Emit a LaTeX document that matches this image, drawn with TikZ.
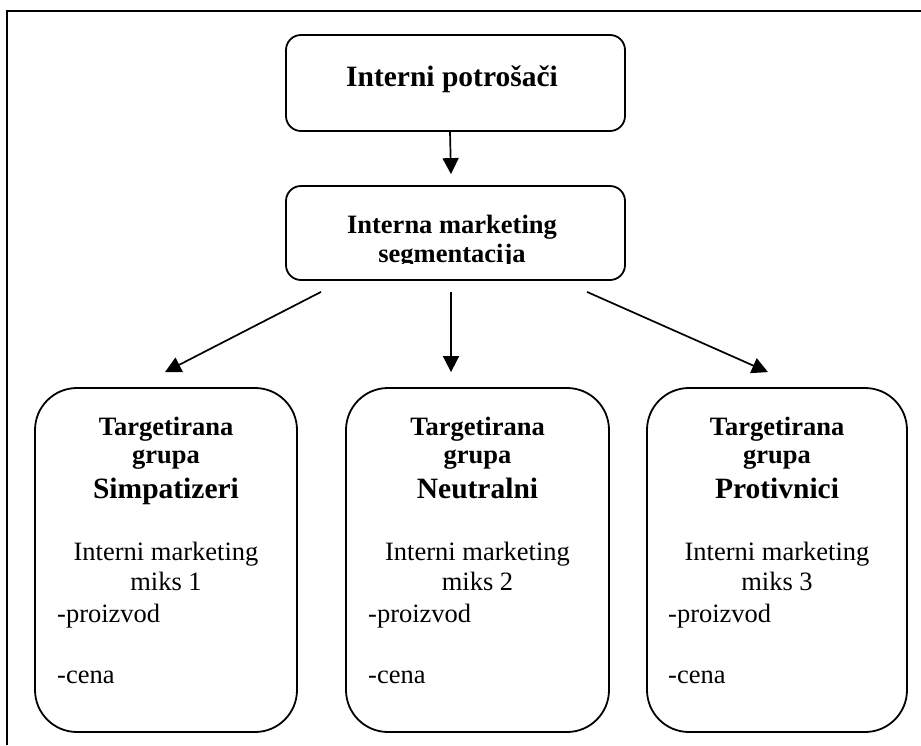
\documentclass[tikz,border=0pt]{standalone}
\usepackage{fontspec}
\setmainfont{Liberation Serif}
\usetikzlibrary{arrows.meta}
\tikzset{
  topbox/.style={draw, line width=1.8pt, rounded corners=15pt, minimum width=339pt, inner sep=0pt},
  grpbox/.style={draw, line width=1.8pt, rounded corners=42pt, minimum height=344pt, inner sep=0pt},
  arr/.style={line width=1.7pt, -{Triangle[width=16pt,length=16pt]}},
  bt/.style={font=\fontsize{26.5}{30}\selectfont\bfseries, inner sep=0pt, anchor=base},
  bb/.style={font=\fontsize{29.5}{33}\selectfont\bfseries, inner sep=0pt, anchor=base},
  rt/.style={font=\fontsize{26.5}{30}\selectfont, inner sep=0pt, anchor=base},
  lt/.style={font=\fontsize{26.5}{30}\selectfont, inner sep=0pt, anchor=base west},
}
\begin{document}
\begin{tikzpicture}[x=1pt,y=-1pt]
\useasboundingbox (0,0) rectangle (921,745);
% outer frame (top and left visible)
\draw[line width=2.7pt] (6,11) -- (921,11);
\draw[line width=1.8pt] (7,10) -- (7,745);

% top boxes
\node[topbox, minimum height=96pt] (top) at (455.5,83) {};
\node[bb] (toptxt) at (452,86) {Interni potrošači};
\node[topbox, minimum height=94pt] (seg) at (455.5,233) {};
\node[bt] (segtxt1) at (452,233) {Interna marketing};
\begin{scope}
  \clip (286,186) rectangle (625,263);
  \node[bt] (segtxt2) at (452,262) {segmentacija};
\end{scope}

% group boxes
\node[grpbox, minimum width=262pt] (g1) at (166,560) {};
\node[grpbox, minimum width=263pt] (g2) at (477.5,560) {};
\node[grpbox, minimum width=260pt] (g3) at (777,560) {};

% arrows
\draw[arr] ([shift={(-5.5,0)}]top.south) -- ([shift={(-4.5,-11)}]seg.north);
\draw[arr] ([shift={(-134.5,11)}]seg.south) -- ([shift={(-1,-15)}]g1.north);
\draw[arr] ([shift={(-4.5,11)}]seg.south) -- ([shift={(-26.5,-15)}]g2.north);
\draw[arr] ([shift={(131.5,11)}]seg.south) -- ([shift={(-9,-15)}]g3.north);

% group 1 text
\node[bt] (a1) at (166,435) {Targetirana};
\node[bt] (a2) at (166,463) {grupa};
\node[bb] (a3) at (166,498) {Simpatizeri};
\node[rt] (a4) at (166,560) {Interni marketing};
\node[rt] (a5) at (166,590) {miks 1};
\node[lt] (a6) at (57,622) {-proizvod};
\node[lt] (a7) at (57,683) {-cena};

% group 2 text
\node[bt] (b1) at (477.5,435) {Targetirana};
\node[bt] (b2) at (477.5,463) {grupa};
\node[bb] (b3) at (477.5,498) {Neutralni};
\node[rt] (b4) at (477.5,560) {Interni marketing};
\node[rt] (b5) at (477.5,590) {miks 2};
\node[lt] (b6) at (368,622) {-proizvod};
\node[lt] (b7) at (368,683) {-cena};

% group 3 text
\node[bt] (c1) at (777,435) {Targetirana};
\node[bt] (c2) at (777,463) {grupa};
\node[bb] (c3) at (777,498) {Protivnici};
\node[rt] (c4) at (777,560) {Interni marketing};
\node[rt] (c5) at (777,590) {miks 3};
\node[lt] (c6) at (668,622) {-proizvod};
\node[lt] (c7) at (668,683) {-cena};
\end{tikzpicture}
\end{document}
